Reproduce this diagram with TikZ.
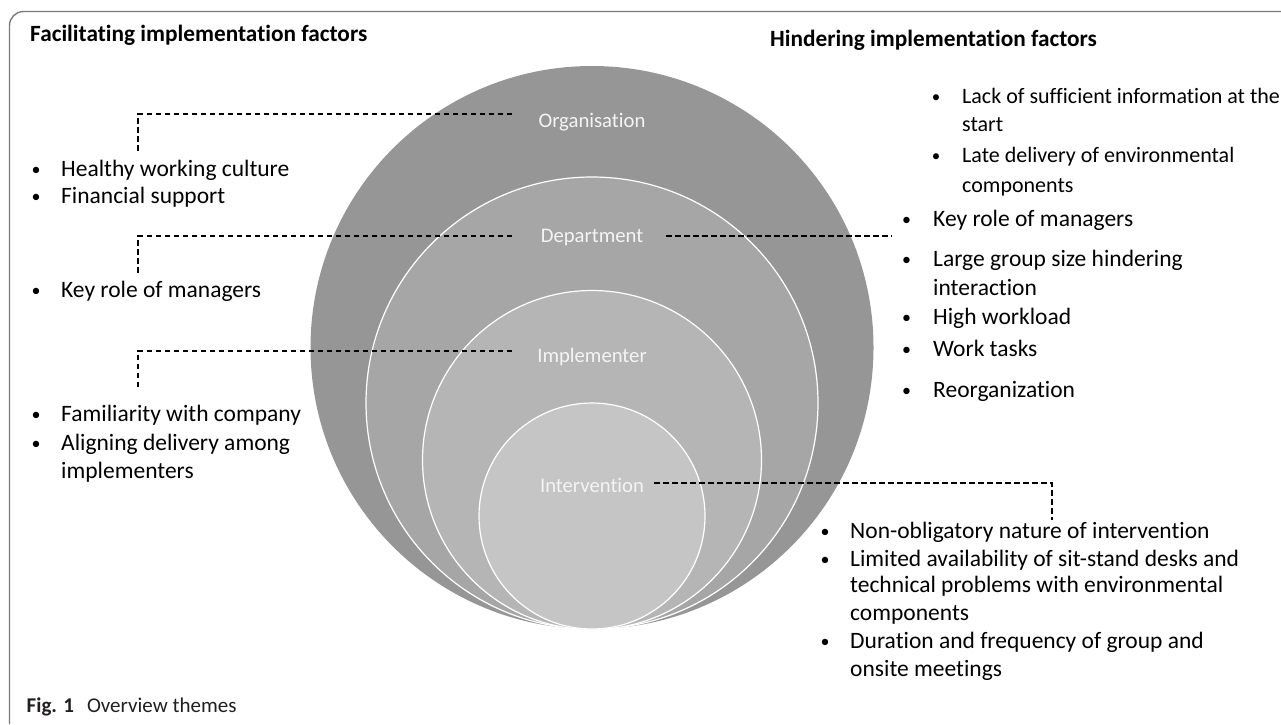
\documentclass[tikz,border=0pt]{standalone}
\usepackage{fontspec}
\setmainfont{Carlito}[Ligatures=NoCommon]
\definecolor{ringA}{HTML}{969696}
\definecolor{ringB}{HTML}{A6A6A6}
\definecolor{ringC}{HTML}{B5B5B5}
\definecolor{ringD}{HTML}{C5C5C5}
\definecolor{labelc}{HTML}{F4F4F4}
\definecolor{framec}{HTML}{7A7A7A}
\definecolor{capc}{HTML}{231F20}
\newcommand\bul[6]{%
  \node[#1bul] (#2b) at (#3,#5) {•};
  \node[#1txt] (#2) at (#4,#5) {#6};}
\begin{document}
\begin{tikzpicture}[x=1pt,y=-1pt,
  bodytxt/.style={anchor=base west, inner sep=0, font=\fontsize{23.5}{28}\selectfont},
  bodybul/.style={anchor=base, inner sep=0, yshift=1pt, font=\fontsize{18}{22}\selectfont},
  smalltxt/.style={anchor=base west, inner sep=0, font=\fontsize{22}{26}\selectfont},
  smallbul/.style={anchor=base, inner sep=0, yshift=1pt, font=\fontsize{17}{21}\selectfont},
  lbl/.style={anchor=base, inner sep=0, text=labelc, font=\fontsize{20.7}{25}\selectfont},
  head/.style={anchor=base west, inner sep=0, font=\bfseries\fontsize{23.3}{28}\selectfont},
  dashline/.style={draw=black, line width=1.6pt, dash pattern=on 5.5pt off 3.5pt},
  ring/.style={draw=white, line width=1.2pt},
  frameline/.style={draw=framec, line width=1.4pt, rounded corners=14pt}]
\useasboundingbox (0,0) rectangle (1281,724);
% frame
\draw[frameline] (9.5,724) -- (9.5,11.5) -- (1285,11.5);
% circles
\fill[ringA] (592,347.5) circle (281.5);
\filldraw[ring, fill=ringB] (592,403) circle (226);
\filldraw[ring, fill=ringC] (592,460) circle (169.5);
\filldraw[ring, fill=ringD] (592,516) circle (113);
% labels
\node[lbl] (org) at (592,127.3) {Organisation};
\node[lbl] (dep) at (592,242.7) {Department};
\node[lbl] (imp) at (592,362) {Implementer};
\node[lbl] (int) at (592,492) {Intervention};
% headings
\node[head] (fac) at (30,41.5) {Facilitating implementation factors};
\node[head] (hin) at (770,46.5) {Hindering implementation factors};
% left lists
\bul{body}{h1}{36}{61}{176}{Healthy working culture}
\bul{body}{h2}{36}{61}{203}{Financial support}
\bul{body}{k1}{36}{61}{297.5}{Key role of managers}
\bul{body}{f1}{36}{61}{421}{Familiarity with company}
\bul{body}{f2}{36}{61}{450}{Aligning delivery among}
\node[bodytxt] (f2c) at (61,478) {implementers};
% right upper list
\bul{small}{r1}{936}{962}{103.3}{Lack of sufficient information at the}
\node[smalltxt] (r1c) at (962,131.7) {start};
\bul{small}{r2}{936}{962}{162.7}{Late delivery of environmental}
\node[smalltxt] (r2c) at (962,192.7) {components};
\bul{body}{r3}{906.5}{933}{226.7}{Key role of managers}
\bul{body}{r4}{906.5}{933}{266.7}{Large group size hindering}
\node[bodytxt] (r4c) at (933,295.7) {interaction};
\bul{body}{r5}{906.5}{933}{324}{High workload}
\bul{body}{r6}{906.5}{933}{356.7}{Work tasks}
\bul{body}{r7}{906.5}{933}{397}{Reorganization}
% right lower list
\bul{body}{n1}{825}{850}{538.3}{Non-obligatory nature of intervention}
\bul{body}{n2}{825}{850}{566}{Limited availability of sit-stand desks and}
\node[bodytxt] (n2c) at (850,592) {technical problems with environmental};
\node[bodytxt] (n2d) at (850,620) {components};
\bul{body}{n3}{825}{850}{648}{Duration and frequency of group and}
\node[bodytxt] (n3c) at (850,676.7) {onsite meetings};
% connector end points
\coordinate (orgA) at (512,114);
\coordinate (orgB) at (138,153);
\coordinate (depA) at (512,236);
\coordinate (depB) at (138,275);
\coordinate (depC) at (666,236);
\coordinate (depD) at (892,236);
\coordinate (impA) at (512,350.7);
\coordinate (impB) at (138,389);
\coordinate (intA) at (654,483);
\coordinate (intB) at (1052,520);
\draw[dashline] (orgA) -| (orgB);
\draw[dashline] (depA) -| (depB);
\draw[dashline] (depC) -- (depD);
\draw[dashline] (impA) -| (impB);
\draw[dashline] (intA) -| (intB);
% caption
\node[anchor=base west, inner sep=0, text=capc, font=\fontsize{21}{25}\selectfont] (cap) at (26.5,712) {\textbf{Fig. 1}\hspace{13pt}Overview themes};
\end{tikzpicture}
\end{document}
